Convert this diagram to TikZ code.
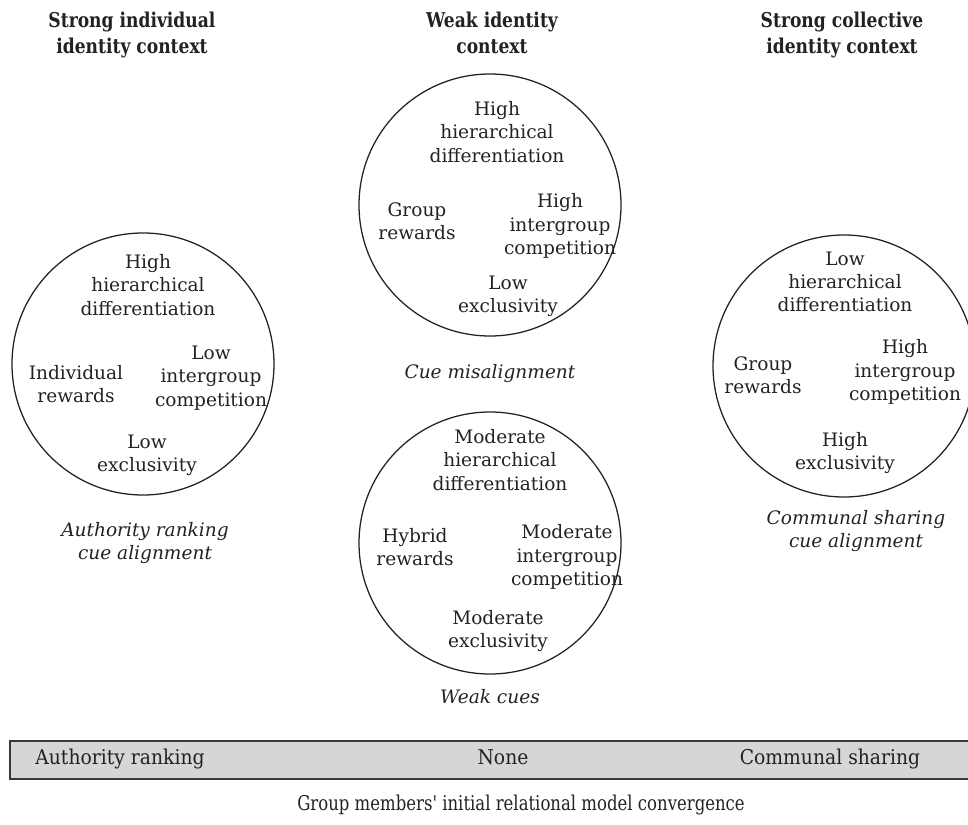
\documentclass[tikz,border=0pt]{standalone}
\usepackage{fontspec}
\setmainfont{DejaVu Serif}
\newfontfamily\condfont{DejaVu Serif}[FakeStretch=0.84]
\newfontfamily\barfont{DejaVu Serif}[FakeStretch=0.92]
\newfontfamily\capfont{DejaVu Serif}[FakeStretch=0.81]
\usetikzlibrary{positioning}

\definecolor{ink}{HTML}{222222}
\definecolor{barfill}{HTML}{D6D6D6}

\begin{document}
\begin{tikzpicture}[
    ctx/.style={draw=ink, circle, minimum size=6.55cm, inner sep=0pt, line width=0.9pt},
    cue/.style={align=center, inner sep=0pt, text=ink, font=\fontsize{13.2}{16.6}\selectfont},
    cuelbl/.style={cue, font=\fontsize{13.2}{16.6}\selectfont\itshape},
    head/.style={align=center, inner sep=0pt, anchor=north, text=ink, font=\condfont\bfseries\fontsize{14.5}{18.2}\selectfont},
    bar/.style={draw=ink!90, fill=barfill, line width=1.3pt, minimum width=24.25cm, minimum height=0.95cm, inner sep=0pt},
    barlbl/.style={inner sep=0pt, anchor=base, text=ink, font=\barfont\fontsize{14.5}{17.8}\selectfont}
]
\useasboundingbox (0,0) rectangle (24.2,20.6);

% ---- Column heads ----
\node[head] (h_ind) at (3.3, 20.3)   {Strong individual\\identity context};
\node[head] (h_weak) at (12.3, 20.3) {Weak identity\\context};
\node[head] (h_col) at (21.05, 20.3) {Strong collective\\identity context};

% ---- Strong individual: authority ranking ----
\node[ctx] (c_ind) at (3.575, 11.5) {};
\node[cue] (ind_hier) at (3.7, 13.475)   {High\\hierarchical\\differentiation};
\node[cue] (ind_rew)  at (1.9, 11.0)     {Individual\\rewards};
\node[cue] (ind_comp) at (5.275, 11.15)  {Low\\intergroup\\competition};
\node[cue] (ind_excl) at (3.675, 9.225)  {Low\\exclusivity};
\node[cuelbl] (ind_lbl) at (3.625, 7.03) {Authority ranking\\cue alignment};

% ---- Weak identity: misalignment ----
\node[ctx] (c_mis) at (12.25, 15.475) {};
\node[cue] (mis_hier) at (12.425, 17.3) {High\\hierarchical\\differentiation};
\node[cue] (mis_rew)  at (10.425, 15.075) {Group\\rewards};
\node[cue] (mis_comp) at (14.0, 14.95)  {High\\intergroup\\competition};
\node[cue] (mis_excl) at (12.7, 13.2)   {Low\\exclusivity};
\node[cuelbl] (mis_lbl) at (12.25, 11.25) {Cue misalignment};

% ---- Weak identity: weak cues ----
\node[ctx] (c_wk) at (12.25, 7.025) {};
\node[cue] (wk_hier) at (12.5, 9.1)    {Moderate\\hierarchical\\differentiation};
\node[cue] (wk_rew)  at (10.375, 6.925) {Hybrid\\rewards};
\node[cue] (wk_comp) at (14.175, 6.675) {Moderate\\intergroup\\competition};
\node[cue] (wk_excl) at (12.45, 4.825)  {Moderate\\exclusivity};
\node[cuelbl] (wk_lbl) at (12.25, 3.175) {Weak cues};

% ---- Strong collective: communal sharing ----
\node[ctx] (c_col) at (21.1, 11.45) {};
\node[cue] (col_hier) at (21.125, 13.55) {Low\\hierarchical\\differentiation};
\node[cue] (col_rew)  at (19.075, 11.225) {Group\\rewards};
\node[cue] (col_comp) at (22.625, 11.3)  {High\\intergroup\\competition};
\node[cue] (col_excl) at (21.125, 9.275) {High\\exclusivity};
\node[cuelbl] (col_lbl) at (21.4, 7.325) {Communal sharing\\cue alignment};

% ---- Convergence bar ----
\node[bar] (scale) at (12.375, 1.6) {};
\node[barlbl] (sc_ar)   at (3.0, 1.5)    {Authority ranking};
\node[barlbl] (sc_none) at (12.575, 1.5) {None};
\node[barlbl] (sc_cs)   at (20.75, 1.5)  {Communal sharing};
\node[barlbl, font=\capfont\fontsize{14.5}{17.8}\selectfont] (sc_cap) at (13.025, 0.35) {Group members' initial relational model convergence};

\end{tikzpicture}
\end{document}
